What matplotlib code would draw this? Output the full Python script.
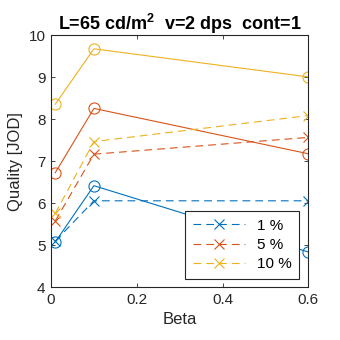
import matplotlib
matplotlib.use('Agg')
import matplotlib.pyplot as plt

plt.rcParams['font.family'] = ['Liberation Sans', 'DejaVu Sans']
plt.rcParams['mathtext.fontset'] = 'custom'
plt.rcParams['mathtext.bf'] = 'Liberation Sans:bold'
plt.rcParams['mathtext.rm'] = 'Liberation Sans'

beta = [0.01, 0.1, 0.6]
labels = ['1 %', '5 %', '10 %']
colors = ['#0072BD', '#D95319', '#EDB120']

# solid lines with circles
quality_o = [
    [5.08, 6.42, 4.84],
    [6.73, 8.26, 7.18],
    [8.36, 9.68, 9.01],
]
# dashed lines with crosses
quality_x = [
    [5.10, 6.06, 6.06],
    [5.58, 7.17, 7.57],
    [5.76, 7.47, 8.09],
]

fig = plt.figure(figsize=(3.4, 3.4), dpi=100)
ax = fig.add_axes([0.15, 0.155, 0.757, 0.741])

handles = []
for i in range(3):
    ax.plot(beta, quality_o[i], '-o', color=colors[i], lw=0.8, ms=8,
            mfc='none', mew=0.8)
    h, = ax.plot(beta, quality_x[i], '--x', color=colors[i], lw=0.8, ms=7,
                 mew=0.8, dashes=(7, 4.5))
    handles.append(h)

ax.set_xlim(0, 0.6)
ax.set_ylim(4, 10)
ax.set_xticks([0, 0.2, 0.4, 0.6])
ax.set_xticklabels(['0', '0.2', '0.4', '0.6'])
ax.set_yticks(range(4, 11))
ax.tick_params(direction='in', length=3, width=0.6, labelsize=11,
               top=True, right=True, colors='#262626', pad=4)
for s in ax.spines.values():
    s.set_linewidth(0.8)
    s.set_color('#262626')

ax.set_xlabel('Beta', fontsize=12, color='#262626')
ax.set_ylabel('Quality [JOD]', fontsize=12, color='#262626')
ax.set_title(r'L=65 cd/m$^\mathbf{2}$  v=2 dps  cont=1', fontsize=13,
             fontweight='bold', pad=4)

leg = ax.legend(handles, labels, loc='lower right',
                bbox_to_anchor=(0.965, 0.033), borderaxespad=0,
                fontsize=11, handlelength=3.4, numpoints=1, fancybox=False,
                framealpha=1, edgecolor='#262626', borderpad=0.5,
                labelspacing=0.35)
leg.get_frame().set_linewidth(0.8)

fig.savefig('out.png', dpi=100, facecolor='white')
